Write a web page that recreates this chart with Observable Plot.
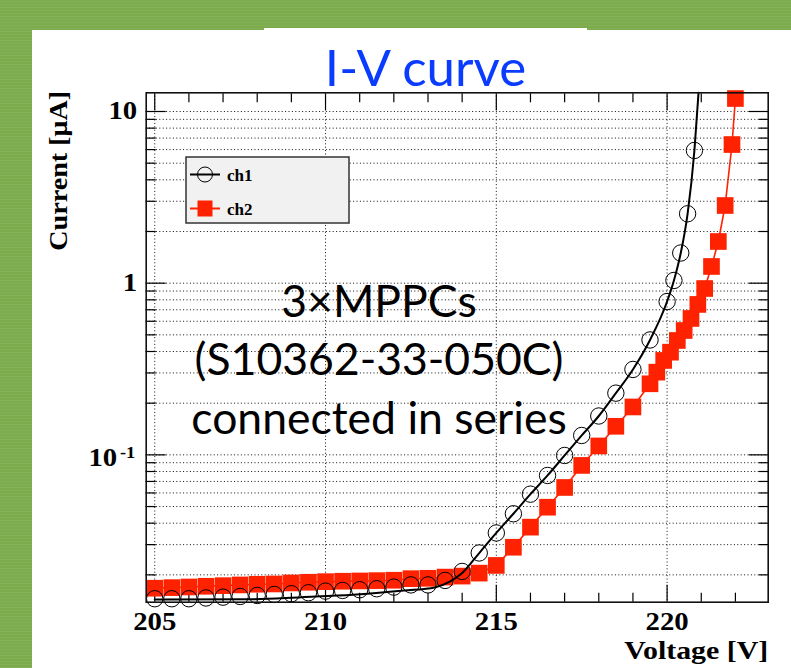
<!DOCTYPE html>
<html><head><meta charset="utf-8">
<script src="https://cdn.jsdelivr.net/npm/d3@7"></script>
<script src="https://cdn.jsdelivr.net/npm/@observablehq/plot@0.6"></script>
<style>
html,body{margin:0;padding:0;background:#7bab4b;}
#page{position:relative;width:791px;height:668px;overflow:hidden;background:#7bab4b;
  background-image:repeating-linear-gradient(0deg,rgba(255,255,255,0.07) 0 1px,transparent 1px 3px);}
#panel{position:absolute;left:32px;top:30px;right:0;bottom:0;background:#fff;}
#titlebox{position:absolute;left:264px;top:28px;width:323px;height:60px;background:#fff;}
#title{position:absolute;left:264px;top:41px;width:323px;text-align:center;font:51px Lato,sans-serif;line-height:51px;color:#0a3cff;white-space:nowrap;}
#chart{position:absolute;left:0;top:0;}
</style>
</head><body>
<div id="page">
  <div id="panel"></div>
  <div id="titlebox"></div>
  <div id="title">I-V curve</div>
  <div id="chart"></div>
</div>
<script>
// ---- data ----
const ch1V = [205,205.5,206,206.5,207,207.5,208,208.5,209,209.5,210,210.5,211,211.5,212,212.5,213,213.5,214,214.5,215,215.5,216,216.5,217,217.5,218,218.5,219,219.5,220,220.2,220.4,220.6,220.8];
const ch1I = [0.01452,0.01452,0.01452,0.01467,0.01483,0.01497,0.01517,0.01538,0.01553,0.01574,0.01608,0.01623,0.01638,0.0166,0.01697,0.01748,0.01748,0.01856,0.02094,0.02683,0.03508,0.04539,0.05903,0.07586,0.0992,0.1297,0.1684,0.2288,0.3144,0.4669,0.7818,1.037,1.499,2.537,5.93];

const ch2V = [205,205.5,206,206.5,207,207.5,208,208.5,209,209.5,210,210.5,211,211.5,212,212.5,213,213.5,214,214.5,215,215.5,216,216.5,217,217.5,218,218.5,219,219.5,219.7,219.9,220.1,220.3,220.5,220.7,220.9,221.1,221.3,221.5,221.7,221.9,222.0];
const ch2I = [0.01672,0.01685,0.017,0.01716,0.0173,0.01747,0.01763,0.0177,0.01794,0.01811,0.01826,0.01836,0.01843,0.01851,0.01861,0.019,0.0191,0.01941,0.01967,0.02047,0.0227,0.02897,0.03793,0.04955,0.06457,0.0868,0.1127,0.1467,0.1901,0.2594,0.3032,0.3548,0.3963,0.4637,0.530,0.623,0.752,0.931,1.251,1.749,2.834,6.42,11.9];

// black curve drawn through ch1 (fit line)
const fitV = [205,207.8,209.3,210.8,212.3,213.2,213.65,214,214.5,215,215.5,216,216.5,217,217.5,218,218.5,219,219.5,220,220.2,220.4,220.6,220.8,220.92];
const fitI = [0.01437,0.01442,0.01483,0.01531,0.0162,0.0169,0.0183,0.0205,0.0268,0.0351,0.0454,0.059,0.0759,0.0992,0.1297,0.1684,0.2288,0.3144,0.4669,0.7818,1.037,1.499,2.537,5.93,12.85];

const xDomain = [204.75, 222.96];
const yDomain = [0.01386, 12.85];
const xMajor = [205,210,215,220];
const xTickLabels = ["205","210","215","220"];
const xMinor = [206,207,208,209,211,212,213,214,216,217,218,219,221,222];
const yMajor = [10,1];
const yMajorLabels = ["10","1"];
const yLowMajor = [0.1];
const yLowBase = ["10"];
const yLowExp = ["-1"];
const yMinor = [0.02,0.03,0.04,0.05,0.06,0.07,0.08,0.09,0.2,0.3,0.4,0.5,0.6,0.7,0.8,0.9,2,3,4,5,6,7,8,9];
const yDecades = [0.1,1,10];
const yGrid = [...yMinor, ...yDecades];
const xTitle = "Voltage [V]";
const yTitle = "Current [μA]";
const annotationLines = ["3×MPPCs","(S10362-33-050C)","connected in series"];
const seriesNames = ["ch1","ch2"];

const ch1 = ch1V.map((v,i)=>({v, c: ch1I[i]}));
const ch2 = ch2V.map((v,i)=>({v, c: ch2I[i]}));
const fit = fitV.map((v,i)=>({v, c: fitI[i]}));

const RED = "#ff2200";
const serif = "'Liberation Serif', 'Times New Roman', serif";
const dotted = {stroke:"#111", strokeWidth:1, strokeDasharray:"1,2.4"};
const blank = () => "";
const lab = {fontFamily:serif, fontWeight:"bold", fill:"black", lineAnchor:"middle"};

const chart = Plot.plot({
  width: 791, height: 668,
  marginTop: 92.3, marginLeft: 145.7, marginRight: 23.3, marginBottom: 66.3,
  style: "background: transparent; overflow: visible;",
  x: {type:"linear", domain:xDomain, axis:null},
  y: {type:"log", domain:yDomain, axis:null},
  marks: [
    Plot.ruleY(yGrid, dotted),
    Plot.ruleX(xMajor, dotted),
    // ticks (inside the frame)
    Plot.axisX({anchor:"bottom", ticks:xMajor, tickSize:-17, tickFormat:blank, label:null, strokeWidth:1.2}),
    Plot.axisX({anchor:"bottom", ticks:xMinor, tickSize:-9, tickFormat:blank, label:null, strokeWidth:1.2}),
    Plot.axisX({anchor:"top", ticks:xMajor, tickSize:-17, tickFormat:blank, label:null, strokeWidth:1.2}),
    Plot.axisX({anchor:"top", ticks:xMinor, tickSize:-9, tickFormat:blank, label:null, strokeWidth:1.2}),
    Plot.axisY({anchor:"left", ticks:yDecades, tickSize:-20, tickFormat:blank, label:null, strokeWidth:1.2}),
    Plot.axisY({anchor:"left", ticks:yMinor, tickSize:-10, tickFormat:blank, label:null, strokeWidth:1.2}),
    Plot.axisY({anchor:"right", ticks:yDecades, tickSize:-20, tickFormat:blank, label:null, strokeWidth:1.2}),
    Plot.axisY({anchor:"right", ticks:yMinor, tickSize:-10, tickFormat:blank, label:null, strokeWidth:1.2}),
    // tick labels
    Plot.text(xMajor, {x:d=>d, text:(d,i)=>xTickLabels[i], frameAnchor:"bottom", dy:20, fontSize:25, ...lab}),
    Plot.text(yMajor, {y:d=>d, text:(d,i)=>yMajorLabels[i], frameAnchor:"left", dx:-9, textAnchor:"end", fontSize:25, ...lab}),
    Plot.text(yLowMajor, {y:d=>d, text:(d,i)=>yLowBase[i], frameAnchor:"left", dx:-29, dy:3.5, textAnchor:"end", fontSize:25, ...lab}),
    Plot.text(yLowMajor, {y:d=>d, text:(d,i)=>yLowExp[i], frameAnchor:"left", dx:-11, dy:-2, textAnchor:"end", fontSize:16, ...lab}),
    // axis titles
    Plot.text([xTitle], {frameAnchor:"bottom-right", text:d=>d, dx:0, dy:48.5, textAnchor:"end", fontSize:25, ...lab}),
    Plot.text([yTitle], {frameAnchor:"top-left", text:d=>d, dx:-88, dy:-2, rotate:-90, textAnchor:"end", fontSize:26, ...lab}),
    // annotation
    Plot.text([annotationLines.join("\n")], {frameAnchor:"top-left", text:d=>d, dx:232.8, dy:264, textAnchor:"middle", lineAnchor:"middle", lineHeight:1.31, fontFamily:"Lato, sans-serif", fontSize:44.5, fill:"black"}),
    // data
    Plot.line(ch2, {x:"v", y:"c", stroke:RED, strokeWidth:1.6}),
    Plot.dot(ch2, {x:"v", y:"c", symbol:"square", r:9.4, fill:RED, stroke:"none"}),
    Plot.dot(ch1, {x:"v", y:"c", symbol:"circle", r:8.2, fill:"none", stroke:"black", strokeWidth:1}),
    Plot.line(fit, {x:"v", y:"c", stroke:"black", strokeWidth:2, curve:"monotone-x"}),
    Plot.frame({stroke:"#111", strokeWidth:1.6})
  ]
});

// legend box
const svg = d3.select(chart);
const lg = svg.append("g").attr("class","legend").attr("text-anchor","start");
lg.append("rect").attr("x",186).attr("y",157).attr("width",163).attr("height",66)
  .attr("fill","#f1f1f1").attr("stroke","#333").attr("stroke-width",1.5);
const rows = [{name:seriesNames[0], y:174.5}, {name:seriesNames[1], y:208.5}];
lg.append("line").attr("x1",190).attr("x2",220).attr("y1",rows[0].y).attr("y2",rows[0].y).attr("stroke","black").attr("stroke-width",2);
lg.append("circle").attr("cx",205).attr("cy",rows[0].y).attr("r",7.5).attr("fill","none").attr("stroke","black").attr("stroke-width",1);
lg.append("line").attr("x1",190).attr("x2",220).attr("y1",rows[1].y).attr("y2",rows[1].y).attr("stroke",RED).attr("stroke-width",2);
lg.append("rect").attr("x",197.5).attr("y",rows[1].y-8).attr("width",15).attr("height",16).attr("fill",RED);
rows.forEach(r => {
  lg.append("text").attr("x",227).attr("y",r.y+6).attr("text-anchor","start").text(r.name)
    .attr("font-family",serif).attr("font-weight","bold").attr("font-size",17).attr("fill","black");
});

document.getElementById("chart").appendChild(chart);

// ROOT-style axis text is a little wider than the plain serif face: stretch it horizontally
const tickTexts = new Set([...xTickLabels, ...yMajorLabels, ...yLowBase, ...yLowExp]);
const fixedLen = new Map([[xTitle, 144], [yTitle, 160]]);
svg.selectAll("text").each(function() {
  if (this.closest(".legend")) return;
  const t = this.textContent;
  let L = null;
  if (fixedLen.has(t)) L = fixedLen.get(t);
  else if (tickTexts.has(t)) L = this.getComputedTextLength() * 1.15;
  if (L) { this.setAttribute("textLength", L); this.setAttribute("lengthAdjust", "spacingAndGlyphs"); }
});
</script>
</body></html>
